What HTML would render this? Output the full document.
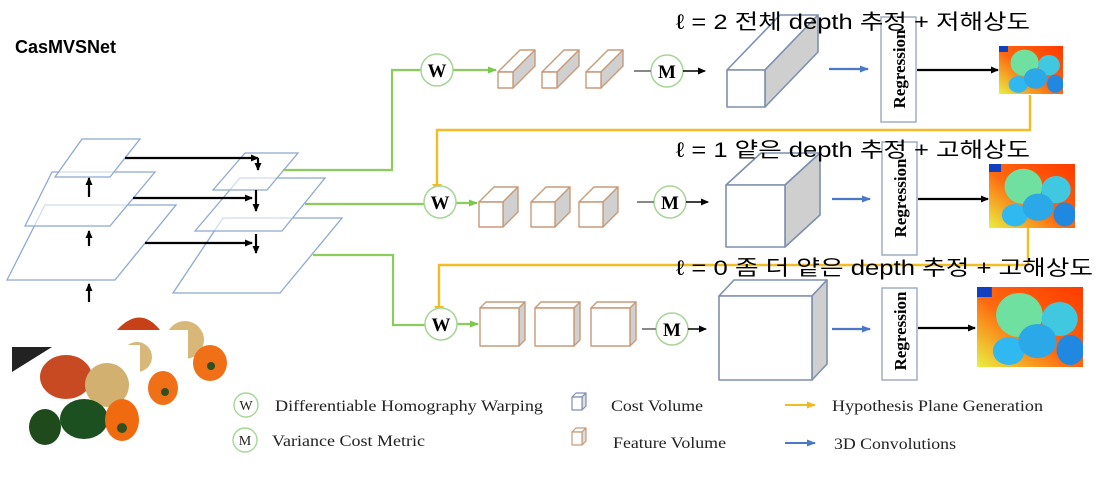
<!DOCTYPE html>
<html><head><meta charset="utf-8"><style>
html,body{margin:0;padding:0;background:#fff}
svg{display:block}
.ser{font-family:"Liberation Serif",serif}
.kr{font-family:"Liberation Sans","Noto Sans CJK KR",sans-serif;font-size:21px;fill:#000}
</style></head><body>
<svg width="1113" height="477" viewBox="0 0 1113 477" xmlns="http://www.w3.org/2000/svg">
<defs>
<marker id="ak" markerWidth="8" markerHeight="8" refX="7" refY="4" orient="auto" markerUnits="userSpaceOnUse"><path d="M0,0.5 L8,4 L0,7.5z" fill="#000"/></marker>
<marker id="ag" markerWidth="9" markerHeight="8" refX="8" refY="4" orient="auto" markerUnits="userSpaceOnUse"><path d="M0,0.5 L9,4 L0,7.5z" fill="#7cc84a"/></marker>
<marker id="ab" markerWidth="9" markerHeight="8" refX="8" refY="4" orient="auto" markerUnits="userSpaceOnUse"><path d="M0,0.5 L9,4 L0,7.5z" fill="#4a78c8"/></marker>
<marker id="ay2" markerWidth="9" markerHeight="8" refX="8" refY="4" orient="auto" markerUnits="userSpaceOnUse"><path d="M0,0.5 L9,4 L0,7.5z" fill="#f0b820"/></marker>
<linearGradient id="dg" x1="1" y1="0" x2="0" y2="1"><stop offset="0" stop-color="#ff3a00"/><stop offset="0.55" stop-color="#ff6a10"/><stop offset="1" stop-color="#e8f040"/></linearGradient>
<symbol id="dm" viewBox="0 0 100 80" preserveAspectRatio="none">
<rect width="100" height="80" fill="url(#dg)"/>
<rect x="0" y="0" width="14" height="10" fill="#1040c0"/>
<circle cx="40" cy="28" r="22" fill="#70e0a0"/>
<circle cx="78" cy="32" r="17" fill="#40c8e0"/>
<ellipse cx="30" cy="64" rx="15" ry="14" fill="#30b8f0"/>
<ellipse cx="57" cy="54" rx="18" ry="17" fill="#2aa8e8"/>
<ellipse cx="88" cy="63" rx="13" ry="15" fill="#2088e0"/>
</symbol>
</defs>

<text x="15" y="53" font-family="Liberation Sans,sans-serif" font-weight="bold" font-size="18">CasMVSNet</text>

<g fill="none" stroke="#8fa8d0" stroke-width="1.3">
<polygon points="7,280 45,205 176,205 115,280" fill="#fff"/>
<polygon points="25,226 52,172 155,172 110,226" fill="#fff" fill-opacity="0.6"/>
<polygon points="55,177 82,139 140,139 110,177" fill="#fff" fill-opacity="0.6"/>
<polygon points="173,293 223,218 342,218 280,293" fill="#fff"/>
<polygon points="195,231 240,178 325,178 282,231" fill="#fff" fill-opacity="0.6"/>
<polygon points="213,190 245,153 298,153 267,190" fill="#fff" fill-opacity="0.6"/>
</g>
<g stroke="#000" stroke-width="2.2" fill="none" marker-end="url(#ak)">
<line x1="125" y1="158" x2="258" y2="158" marker-end=""/>
<line x1="258" y1="158" x2="258" y2="170"/>
<line x1="133" y1="198" x2="252" y2="198"/>
<line x1="256" y1="190" x2="256" y2="211"/>
<line x1="145" y1="243" x2="252" y2="243"/>
<line x1="256" y1="234" x2="256" y2="253"/>
<line x1="89" y1="197" x2="89" y2="178"/>
<line x1="89" y1="246" x2="89" y2="231"/>
<line x1="89" y1="302" x2="89" y2="284"/>
</g>

<g stroke="#8ccc5c" stroke-width="2.2" fill="none">
<polyline points="283,170 392,170 392,70 421,70"/>
<line x1="305" y1="204" x2="424" y2="204"/>
<polyline points="313,255 393,255 393,325 425,325"/>
<line x1="453" y1="70" x2="496" y2="70" marker-end="url(#ag)"/>
<line x1="456" y1="203" x2="477" y2="203" marker-end="url(#ag)"/>
<line x1="457" y1="324" x2="478" y2="324" marker-end="url(#ag)"/>
</g>
<g stroke="#f2bc24" stroke-width="2.4" fill="none">
<polyline points="1030,95 1030,130 437,130 437,186"/>
<polyline points="1028,228 1028,265 439,265 439,308"/>
</g>
<path d="M432,184 L442,184 L437,192z" fill="#f2bc24"/>
<path d="M434,306 L444,306 L439,314z" fill="#f2bc24"/>

<g fill="#fff" stroke="#a8d498" stroke-width="1.5">
<circle cx="437" cy="70" r="16"/><circle cx="440" cy="202" r="16"/><circle cx="441" cy="324" r="16"/>
<circle cx="667" cy="71" r="16"/><circle cx="670" cy="202" r="16"/><circle cx="672" cy="329" r="16"/>
</g>
<g class="ser" font-size="19" font-weight="bold" text-anchor="middle">
<text x="437" y="77">W</text><text x="440" y="209">W</text><text x="441" y="331">W</text>
<text x="667" y="78">M</text><text x="670" y="209">M</text><text x="672" y="336">M</text>
</g>

<g stroke="#c89a78" stroke-width="1.4" stroke-linejoin="round">
<g id="f1"><polygon points="498,72 520,50 535,50 513,72" fill="#fff"/><polygon points="513,72 535,50 535,66 513,88" fill="#d0d0d0"/><rect x="498" y="72" width="15" height="16" fill="#fff"/></g>
<use href="#f1" x="44"/><use href="#f1" x="88"/>
<g id="f2"><polygon points="479,202 494,187 518,187 503,202" fill="#fff"/><polygon points="503,202 518,187 518,212 503,227" fill="#d0d0d0"/><rect x="479" y="202" width="24" height="25" fill="#fff"/></g>
<use href="#f2" x="52"/><use href="#f2" x="100"/>
<g id="f3"><polygon points="480,308 486,302 525,302 519,308" fill="#fff"/><polygon points="519,308 525,302 525,340 519,346" fill="#d0d0d0"/><rect x="480" y="308" width="39" height="38" fill="#fff"/></g>
<use href="#f3" x="55"/><use href="#f3" x="111"/>
</g>
<g stroke="#888" stroke-width="2">
<line x1="634" y1="71" x2="651" y2="71"/><line x1="637" y1="202" x2="654" y2="202"/><line x1="642" y1="329" x2="656" y2="329"/>
</g>
<g stroke="#000" stroke-width="1.6" marker-end="url(#ak)">
<line x1="683" y1="71" x2="705" y2="71"/><line x1="686" y1="202" x2="708" y2="202"/><line x1="688" y1="329" x2="706" y2="329"/>
</g>

<g stroke="#7f8fae" stroke-width="1.6" stroke-linejoin="round">
<polygon points="727,70 780,15 818,15 765,70" fill="#fff"/>
<polygon points="765,70 818,15 818,52 765,107" fill="#cfcfcf"/>
<rect x="727" y="70" width="38" height="37" fill="#fff"/>
<polygon points="726,185 761,153 820,153 785,185" fill="#fff"/>
<polygon points="785,185 820,153 820,215 785,247" fill="#cfcfcf"/>
<rect x="726" y="185" width="59" height="62" fill="#fff"/>
<polygon points="719,296 734,280 827,280 812,296" fill="#fff"/>
<polygon points="812,296 827,280 827,364 812,380" fill="#cfcfcf"/>
<rect x="719" y="296" width="93" height="84" fill="#fff"/>
</g>
<g stroke="#4a78c8" stroke-width="2.2" marker-end="url(#ab)">
<line x1="829" y1="69" x2="868" y2="69"/><line x1="832" y1="199" x2="870" y2="199"/><line x1="832" y1="329" x2="870" y2="329"/>
</g>
<g fill="#fff" stroke="#9aa8c0" stroke-width="1.4">
<rect x="881" y="17" width="35" height="105"/><rect x="882" y="142" width="35" height="113"/><rect x="882" y="288" width="35" height="92"/>
</g>
<g class="ser" font-size="17" font-weight="bold" text-anchor="middle">
<text transform="translate(905,69) rotate(-90)">Regression</text>
<text transform="translate(906,198) rotate(-90)">Regression</text>
<text transform="translate(906,331) rotate(-90)">Regression</text>
</g>
<g stroke="#000" stroke-width="2.2" marker-end="url(#ak)">
<line x1="917" y1="70" x2="998" y2="70"/><line x1="918" y1="199" x2="988" y2="199"/><line x1="918" y1="328" x2="975" y2="328"/>
</g>
<use href="#dm" x="999" y="46" width="64" height="48"/>
<use href="#dm" x="989" y="164" width="86" height="64"/>
<use href="#dm" x="977" y="287" width="106" height="80"/>

<text class="kr" x="676" y="29" textLength="354" lengthAdjust="spacingAndGlyphs">ℓ = 2 전체 depth 추정 + 저해상도</text>
<text class="kr" x="676" y="157" textLength="354" lengthAdjust="spacingAndGlyphs">ℓ = 1 얕은 depth 추정 + 고해상도</text>
<text class="kr" x="676" y="275" textLength="417" lengthAdjust="spacingAndGlyphs">ℓ = 0 좀 더 얕은 depth 추정 + 고해상도</text>

<rect x="170" y="318" width="56" height="80" fill="#fff"/>
<path d="M117,330 Q140,305 160,330z" fill="#c84018"/>
<circle cx="185" cy="340" r="19" fill="#d8b878"/>
<ellipse cx="210" cy="363" rx="17" ry="18" fill="#f07018"/>
<circle cx="211" cy="366" r="4" fill="#305020"/>
<rect x="118" y="330" width="70" height="85" fill="#fff"/>
<circle cx="137" cy="357" r="15" fill="#d8b878"/>
<ellipse cx="163" cy="388" rx="15" ry="17" fill="#f07018"/>
<circle cx="165" cy="392" r="4" fill="#305020"/>
<rect x="12" y="345" width="128" height="100" fill="#fff"/>
<polygon points="12,347 52,347 12,372" fill="#222"/>
<ellipse cx="66" cy="377" rx="26" ry="22" fill="#c84a22"/>
<circle cx="107" cy="385" r="22" fill="#d2b070"/>
<ellipse cx="45" cy="427" rx="16" ry="18" fill="#1e4a1c"/>
<ellipse cx="84" cy="419" rx="24" ry="20" fill="#1c5020"/>
<ellipse cx="122" cy="420" rx="17" ry="21" fill="#f06a10"/>
<circle cx="122" cy="428" r="5" fill="#305020"/>

<g fill="#fff" stroke="#a8d498" stroke-width="1.4"><circle cx="246" cy="405" r="12"/><circle cx="245" cy="440" r="12"/></g>
<g class="ser" font-size="16" fill="#222">
<text x="246" y="410" text-anchor="middle" font-size="14">W</text>
<text x="245" y="445" text-anchor="middle" font-size="14">M</text>
<text x="275" y="411" textLength="268" lengthAdjust="spacingAndGlyphs">Differentiable Homography Warping</text>
<text x="272" y="446" textLength="153" lengthAdjust="spacingAndGlyphs">Variance Cost Metric</text>
<text x="611" y="411" textLength="92" lengthAdjust="spacingAndGlyphs">Cost Volume</text>
<text x="613" y="448" textLength="113" lengthAdjust="spacingAndGlyphs">Feature Volume</text>
<text x="832" y="411" textLength="211" lengthAdjust="spacingAndGlyphs">Hypothesis Plane Generation</text>
<text x="834" y="449" textLength="122" lengthAdjust="spacingAndGlyphs">3D Convolutions</text>
</g>
<g stroke-width="1.2" stroke-linejoin="round">
<g stroke="#7f8fae"><polygon points="572,397 576,393 586,393 582,397" fill="#fff"/><polygon points="582,397 586,393 586,406 582,410" fill="#ddd"/><rect x="572" y="397" width="10" height="13" fill="#fff"/></g>
<g stroke="#c89a78"><polygon points="572,432 576,428 586,428 582,432" fill="#fff"/><polygon points="582,432 586,428 586,441 582,445" fill="#ddd"/><rect x="572" y="432" width="10" height="13" fill="#fff"/></g>
</g>
<line x1="785" y1="405" x2="815" y2="405" stroke="#f2bc24" stroke-width="2" marker-end="url(#ay2)"/>
<line x1="785" y1="443" x2="815" y2="443" stroke="#4a78c8" stroke-width="2" marker-end="url(#ab)"/>
</svg>
</body></html>
